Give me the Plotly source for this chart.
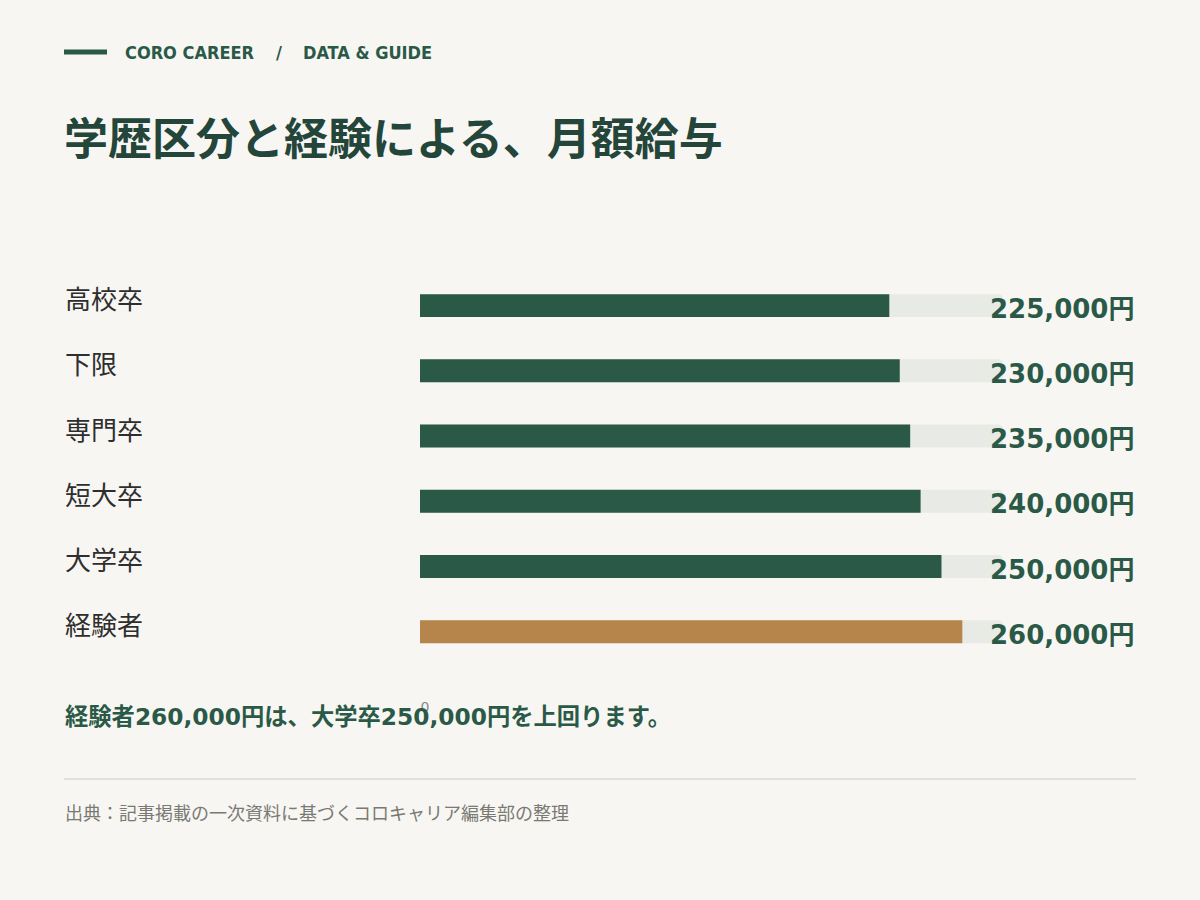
import plotly.graph_objects as go

# data
categories = ["高校卒", "下限", "専門卒", "短大卒", "大学卒", "経験者"]
salaries = [225000, 230000, 235000, 240000, 250000, 260000]
value_labels = ["225,000円", "230,000円", "235,000円", "240,000円", "250,000円", "260,000円"]
track_max = 279500

title = "学歴区分と経験による、月額給与"
kicker_left = "CORO CAREER"
kicker_right = "DATA & GUIDE"
note = "経験者260,000円は、大学卒250,000円を上回ります。"
source = "出典：記事掲載の一次資料に基づくコロキャリア編集部の整理"

GREEN = "#2a5a47"
GOLD = "#b5854b"
TRACK = "#e8ebe5"
BG = "#f7f6f2"
CJK = "Noto Sans CJK JP"
MIX = "DejaVu Sans, Noto Sans CJK JP"

W, H = 1200, 900
L, R, T, B = 420, 1003, 273, 697


def px_x(x):
    return (x - L) / (R - L)


def px_y(y):
    return (B - y) / (B - T)


fig = go.Figure()
fig.add_trace(go.Bar(
    x=[track_max] * len(categories), y=categories, orientation="h",
    marker=dict(color=TRACK, line=dict(width=0)), hoverinfo="skip",
))
fig.add_trace(go.Bar(
    x=salaries, y=categories, orientation="h",
    marker=dict(color=[GREEN] * (len(categories) - 1) + [GOLD], line=dict(width=0)),
    hoverinfo="skip",
))

anns = []
for c, lab in zip(categories, value_labels):
    anns.append(dict(x=px_x(63), xref="paper", y=c, yref="y", text=c, showarrow=False,
                     xanchor="left", yanchor="middle", yshift=8,
                     font=dict(family=CJK, size=26, color="#2e2e2e")))
    anns.append(dict(x=px_x(1136), xref="paper", y=c, yref="y", text="<b>%s</b>" % lab,
                     showarrow=False, xanchor="right", yanchor="middle", yshift=-3,
                     font=dict(family=MIX, size=26, color=GREEN)))


def text_at(x, y, s, size, color, family=MIX):
    return dict(x=px_x(x), y=px_y(y), xref="paper", yref="paper", text=s,
                showarrow=False, xanchor="left", yanchor="middle",
                font=dict(family=family, size=size, color=color))


KICK = "DejaVu Sans Condensed, DejaVu Sans"
anns += [
    text_at(123, 52, "<b>%s</b>" % kicker_left, 18, GREEN, KICK),
    text_at(274, 52, "<b>/</b>", 18, GREEN, KICK),
    text_at(301, 52, "<b>%s</b>" % kicker_right, 18, GREEN, KICK),
    text_at(62, 136, "<b>%s</b>" % title, 44, "#24453a", CJK),
    text_at(63, 716, "<b>%s</b>" % note, 23.3, GREEN),
    text_at(63, 812, source, 18, "#7a7a74", CJK),
]

shapes = [
    dict(type="line", xref="paper", yref="paper", x0=px_x(64), x1=px_x(107),
         y0=px_y(52), y1=px_y(52), line=dict(color=GREEN, width=5)),
    dict(type="line", xref="paper", yref="paper", x0=px_x(64), x1=px_x(1136),
         y0=px_y(779), y1=px_y(779), line=dict(color="#dde3dc", width=2)),
]

fig.update_layout(
    width=W, height=H,
    margin=dict(l=L, r=W - R, t=T, b=H - B),
    paper_bgcolor=BG, plot_bgcolor=BG,
    barmode="overlay", bargap=0.648, barcornerradius=5,
    showlegend=False,
    annotations=anns, shapes=shapes,
    font=dict(family=MIX),
)
fig.update_xaxes(range=[0, track_max], tickvals=[0], ticktext=["0"], showgrid=False,
                 zeroline=False, showline=False, ticklabelshift=5,
                 tickfont=dict(size=14, color="#8a8a8a"))
fig.update_yaxes(range=[6.0, -0.5], showticklabels=False, showgrid=False,
                 zeroline=False, showline=False)

fig.write_html("out.html", config={"displayModeBar": False},
               post_script="document.body.style.margin='0';"
                           "document.body.style.background='%s';" % BG)
